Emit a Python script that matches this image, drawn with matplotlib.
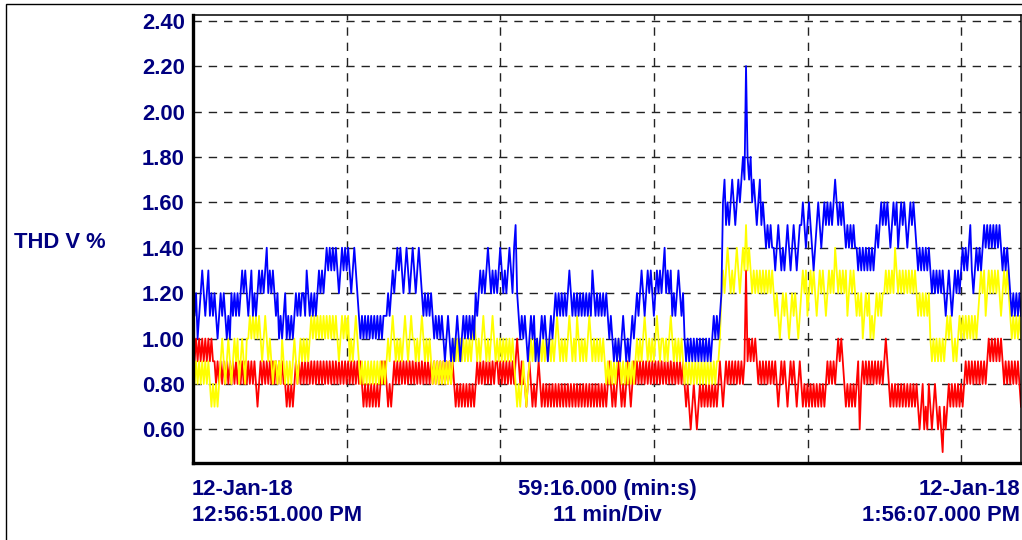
import numpy as np
import matplotlib.pyplot as plt
from matplotlib.patches import Rectangle

# THD readings in tenths of a percent (18 samples per ~2 min block)
blue_thd = [
    12, 11, 12, 10, 11, 12, 13, 12, 11, 12, 13, 11, 12, 11, 12, 11, 10, 11,
    12, 11, 12, 11, 10, 11, 10, 12, 11, 12, 11, 12, 11, 12, 13, 12, 13, 12,
    11, 12, 13, 11, 12, 11, 12, 13, 12, 13, 12, 13, 14, 12, 13, 12, 13, 12,
    11, 12, 10, 11, 10, 11, 12, 10, 11, 10, 11, 10, 11, 12, 11, 12, 11, 12,
    12, 11, 13, 12, 11, 12, 11, 12, 11, 12, 13, 12, 13, 12, 13, 14, 13, 14,
    13, 14, 13, 14, 13, 12, 13, 14, 13, 14, 13, 14, 13, 12, 13, 14, 13, 12,
    11, 10, 11, 10, 11, 10, 11, 10, 11, 10, 11, 10, 11, 10, 11, 10, 11, 11,
    11, 12, 11, 12, 13, 12, 13, 14, 13, 14, 13, 12, 13, 14, 13, 12, 13, 14,
    13, 12, 13, 14, 13, 12, 11, 12, 11, 12, 11, 12, 11, 10, 11, 10, 11, 10,
    11, 10, 9, 10, 11, 10, 9, 10, 9, 10, 11, 10, 9, 10, 11, 10, 11, 10,
    11, 10, 11, 10, 12, 11, 12, 13, 12, 13, 12, 13, 14, 13, 12, 13, 12, 13,
    12, 13, 14, 13, 12, 13, 12, 13, 14, 13, 12, 14, 15, 12, 11, 10, 11, 10,
    11, 10, 9, 10, 11, 10, 11, 9, 10, 9, 10, 11, 10, 11, 10, 9, 10, 11,
    10, 11, 12, 11, 12, 11, 12, 11, 12, 11, 12, 13, 12, 11, 12, 11, 12, 11,
    12, 11, 12, 11, 12, 11, 12, 11, 13, 12, 11, 12, 11, 12, 11, 12, 11, 12,
    11, 10, 11, 10, 9, 10, 9, 10, 9, 10, 11, 10, 9, 10, 9, 10, 11, 10,
    11, 12, 11, 12, 13, 12, 11, 12, 13, 12, 13, 12, 11, 12, 13, 12, 13, 12,
    13, 14, 12, 13, 12, 13, 11, 12, 11, 12, 13, 12, 11, 12, 10, 9, 10, 9,
    10, 9, 10, 9, 10, 9, 10, 9, 10, 9, 10, 9, 10, 9, 10, 11, 10, 11,
    10, 11, 12, 16, 17, 15, 16, 15, 16, 17, 16, 15, 16, 17, 16, 17, 18, 17,
    22, 18, 17, 18, 16, 17, 16, 15, 16, 17, 15, 16, 15, 14, 15, 14, 15, 14,
    14, 13, 14, 15, 14, 13, 14, 13, 14, 15, 14, 13, 14, 15, 14, 13, 14, 15,
    15, 16, 15, 14, 15, 16, 15, 14, 13, 14, 15, 16, 15, 14, 15, 16, 15, 16,
    15, 16, 15, 16, 17, 16, 15, 16, 15, 16, 15, 14, 15, 14, 15, 14, 15, 14,
    14, 13, 14, 13, 14, 13, 14, 13, 14, 13, 14, 13, 14, 15, 14, 15, 16, 15,
    16, 15, 16, 15, 14, 15, 16, 15, 16, 14, 15, 16, 15, 16, 15, 14, 15, 16,
    15, 16, 15, 14, 13, 14, 13, 14, 13, 14, 13, 14, 13, 12, 13, 12, 13, 12,
    13, 12, 13, 12, 11, 12, 13, 12, 11, 12, 13, 12, 13, 12, 13, 14, 13, 14,
    13, 14, 15, 13, 12, 13, 14, 13, 14, 13, 14, 15, 14, 15, 14, 15, 14, 15,
    14, 15, 14, 15, 14, 13, 14, 13, 14, 13, 12, 11, 12, 11, 12, 11, 12, 11,
]

yellow_thd = [
    9, 8, 9, 8, 9, 8, 9, 8, 9, 8, 9, 8, 7, 8, 7, 8, 7, 8,
    9, 10, 9, 8, 9, 10, 9, 8, 9, 10, 9, 10, 8, 9, 10, 9, 8, 10,
    10, 11, 10, 11, 10, 11, 10, 11, 10, 9, 10, 11, 10, 9, 10, 9, 8, 9,
    9, 8, 9, 8, 10, 9, 8, 9, 8, 9, 8, 9, 10, 9, 8, 9, 10, 9,
    10, 9, 10, 9, 10, 11, 10, 11, 10, 11, 10, 11, 10, 11, 10, 11, 10, 11,
    10, 11, 10, 11, 10, 9, 10, 11, 10, 11, 10, 11, 9, 10, 9, 10, 11, 10,
    9, 8, 9, 8, 9, 8, 9, 8, 9, 8, 9, 8, 9, 8, 9, 8, 9, 8,
    9, 10, 9, 10, 11, 10, 9, 10, 9, 10, 9, 10, 11, 10, 9, 10, 11, 10,
    10, 9, 10, 9, 10, 11, 10, 9, 10, 9, 10, 9, 8, 9, 8, 9, 8, 9,
    8, 9, 8, 9, 8, 9, 8, 9, 10, 9, 10, 9, 10, 9, 10, 9, 10, 9,
    10, 9, 10, 11, 10, 9, 10, 9, 10, 11, 10, 9, 10, 9, 10, 11, 10, 9,
    10, 9, 10, 9, 10, 9, 10, 9, 10, 9, 10, 9, 8, 7, 8, 7, 8, 9,
    8, 7, 8, 9, 10, 9, 10, 9, 10, 9, 10, 9, 10, 9, 10, 9, 10, 9,
    10, 9, 10, 11, 10, 9, 10, 9, 10, 9, 10, 11, 10, 9, 10, 9, 11, 10,
    9, 10, 9, 10, 9, 10, 11, 10, 9, 10, 9, 10, 9, 10, 9, 10, 9, 8,
    9, 8, 9, 8, 9, 8, 9, 10, 9, 8, 9, 8, 9, 8, 9, 8, 9, 8,
    9, 10, 9, 10, 9, 10, 11, 10, 9, 10, 9, 10, 9, 10, 11, 10, 9, 10,
    10, 9, 10, 9, 10, 11, 10, 9, 10, 9, 10, 9, 10, 9, 8, 9, 8, 9,
    8, 9, 8, 9, 8, 9, 8, 9, 8, 9, 8, 9, 8, 9, 8, 9, 8, 9,
    9, 10, 12, 13, 12, 13, 14, 13, 12, 13, 12, 13, 14, 13, 12, 13, 14, 13,
    15, 13, 14, 13, 12, 13, 12, 13, 12, 13, 12, 13, 12, 13, 12, 13, 12, 13,
    12, 11, 12, 11, 10, 11, 12, 11, 12, 11, 10, 11, 12, 11, 12, 11, 10, 11,
    12, 13, 12, 13, 11, 12, 13, 12, 13, 12, 11, 12, 13, 12, 13, 12, 11, 12,
    13, 12, 13, 12, 14, 13, 12, 13, 12, 13, 12, 13, 11, 12, 13, 12, 13, 12,
    11, 12, 11, 12, 10, 11, 12, 11, 12, 10, 11, 10, 11, 12, 11, 12, 11, 12,
    12, 13, 12, 13, 12, 13, 12, 14, 13, 12, 13, 12, 13, 12, 13, 12, 13, 12,
    13, 12, 13, 12, 11, 12, 11, 12, 11, 12, 11, 12, 10, 9, 10, 9, 10, 9,
    10, 9, 10, 9, 10, 11, 10, 11, 10, 9, 10, 9, 10, 11, 10, 11, 10, 11,
    10, 11, 10, 11, 10, 11, 10, 11, 12, 13, 12, 13, 11, 12, 13, 12, 13, 12,
    13, 12, 13, 12, 11, 12, 13, 12, 13, 12, 11, 10, 11, 10, 11, 10, 11, 10,
]

red_thd = [
    10, 9, 10, 9, 10, 9, 10, 9, 10, 9, 10, 9, 10, 9, 9, 8, 9, 8,
    9, 8, 9, 8, 9, 8, 9, 8, 9, 8, 9, 8, 9, 8, 9, 8, 9, 8,
    9, 8, 9, 8, 9, 8, 7, 8, 9, 8, 9, 8, 9, 8, 9, 8, 9, 8,
    9, 8, 9, 8, 9, 8, 8, 7, 8, 7, 8, 7, 8, 9, 8, 9, 8, 9,
    8, 9, 8, 9, 8, 9, 8, 9, 8, 9, 8, 9, 8, 9, 8, 9, 8, 9,
    8, 9, 8, 9, 8, 9, 8, 9, 8, 9, 8, 9, 8, 9, 8, 9, 8, 9,
    8, 9, 8, 7, 8, 7, 8, 7, 8, 7, 8, 7, 8, 7, 8, 9, 8, 9,
    8, 7, 8, 7, 8, 9, 8, 9, 8, 9, 8, 9, 8, 9, 8, 9, 8, 9,
    8, 9, 8, 9, 8, 9, 8, 9, 8, 9, 8, 9, 8, 9, 8, 9, 8, 9,
    8, 9, 8, 9, 8, 9, 8, 9, 8, 7, 8, 7, 8, 7, 8, 7, 8, 7,
    8, 7, 8, 7, 8, 9, 8, 9, 8, 9, 8, 9, 8, 9, 8, 9, 8, 9,
    9, 8, 9, 8, 9, 8, 9, 8, 9, 8, 9, 8, 9, 10, 9, 8, 9, 8,
    8, 7, 8, 9, 8, 7, 8, 7, 8, 9, 8, 7, 8, 7, 8, 7, 8, 7,
    8, 7, 8, 7, 8, 7, 8, 7, 8, 7, 8, 7, 8, 7, 8, 7, 8, 7,
    8, 7, 8, 7, 8, 7, 8, 7, 8, 7, 8, 7, 8, 7, 8, 7, 8, 7,
    8, 9, 8, 7, 8, 7, 8, 9, 8, 7, 8, 7, 8, 9, 8, 7, 8, 9,
    8, 9, 8, 9, 8, 9, 8, 9, 8, 9, 8, 9, 8, 9, 8, 9, 8, 9,
    8, 9, 8, 9, 8, 9, 8, 9, 8, 9, 8, 9, 8, 9, 8, 7, 8, 7,
    6, 7, 8, 7, 6, 7, 8, 7, 8, 7, 8, 7, 8, 7, 8, 7, 8, 7,
    8, 9, 8, 7, 8, 9, 8, 9, 8, 9, 8, 9, 8, 9, 8, 9, 8, 9,
    13, 9, 10, 9, 10, 9, 10, 9, 8, 9, 8, 9, 8, 9, 8, 9, 8, 9,
    8, 9, 8, 7, 8, 9, 8, 9, 8, 7, 8, 9, 8, 9, 8, 7, 8, 9,
    8, 7, 8, 7, 8, 7, 8, 7, 8, 7, 8, 7, 8, 7, 8, 7, 8, 9,
    8, 9, 8, 9, 8, 9, 10, 9, 10, 9, 8, 7, 8, 7, 8, 7, 8, 7,
    8, 9, 6, 8, 9, 8, 9, 8, 9, 8, 9, 8, 9, 8, 9, 8, 9, 8,
    9, 10, 9, 8, 7, 8, 7, 8, 7, 8, 7, 8, 7, 8, 7, 8, 7, 8,
    7, 8, 7, 8, 7, 6, 7, 8, 6, 7, 6, 8, 7, 6, 7, 8, 7, 6,
    7, 6, 5, 7, 6, 7, 8, 7, 8, 7, 8, 7, 8, 7, 8, 7, 8, 9,
    8, 9, 8, 9, 8, 9, 8, 9, 8, 9, 8, 9, 8, 9, 10, 9, 10, 9,
    10, 9, 10, 9, 10, 9, 8, 9, 8, 9, 8, 9, 8, 9, 8, 9, 8, 7,
]

span_min = 59 + 16 / 60.0   # 59:16.000
div_min = 11
y_ticks = [0.6, 0.8, 1.0, 1.2, 1.4, 1.6, 1.8, 2.0, 2.2, 2.4]

W, H = 1022, 540
navy = '#000080'
fig = plt.figure(figsize=(W / 100, H / 100), dpi=100)
fig.patches.append(Rectangle((6 / W, -0.1), 1.2, 1.1 - 4.5 / H, transform=fig.transFigure,
                             fill=False, edgecolor='black', linewidth=1.0))

ax = fig.add_axes([193 / W, (H - 463) / H, (1021 - 193) / W, (463 - 15) / H])

t = np.linspace(0, span_min, len(blue_thd))
for series, color in [(red_thd, '#ff0000'), (yellow_thd, '#ffff00'), (blue_thd, '#0000ff')]:
    ax.plot(t, np.array(series) / 10.0, color=color, linewidth=1.3)

ax.set_xlim(0, span_min)
ax.set_ylim(0.452, 2.425)
ax.set_yticks(y_ticks)
ax.set_yticklabels(['%.2f' % v for v in y_ticks], fontfamily='Liberation Sans',
                   fontweight='bold', fontsize=15.8, color=navy)
ax.set_xticks(np.arange(div_min, span_min, div_min))
ax.set_xticklabels([])
ax.tick_params(length=0, pad=6)
ax.grid(True, color='#222222', linestyle=(0, (6, 5)), linewidth=1.0)

for side in ['left', 'bottom']:
    ax.spines[side].set_linewidth(2.4)
for side in ['top', 'right']:
    ax.spines[side].set_linewidth(1.1)

lbl = dict(fontfamily='Liberation Sans', fontweight='bold', fontsize=15.8, color=navy,
           va='top', linespacing=1.3)
fig.text(192 / W, 1 - 479 / H, '12-Jan-18\n12:56:51.000 PM', ha='left', multialignment='left', **lbl)
fig.text(607 / W, 1 - 479 / H, '59:16.000 (min:s)\n11 min/Div', ha='center', multialignment='center', **lbl)
fig.text(1020 / W, 1 - 479 / H, '12-Jan-18\n1:56:07.000 PM', ha='right', multialignment='right', **lbl)
fig.text(14 / W, 1 - 242 / H, 'THD V %', ha='left', va='center', fontfamily='Liberation Sans',
         fontweight='bold', fontsize=15.8, color=navy)

fig.savefig('out.png', dpi=100)
